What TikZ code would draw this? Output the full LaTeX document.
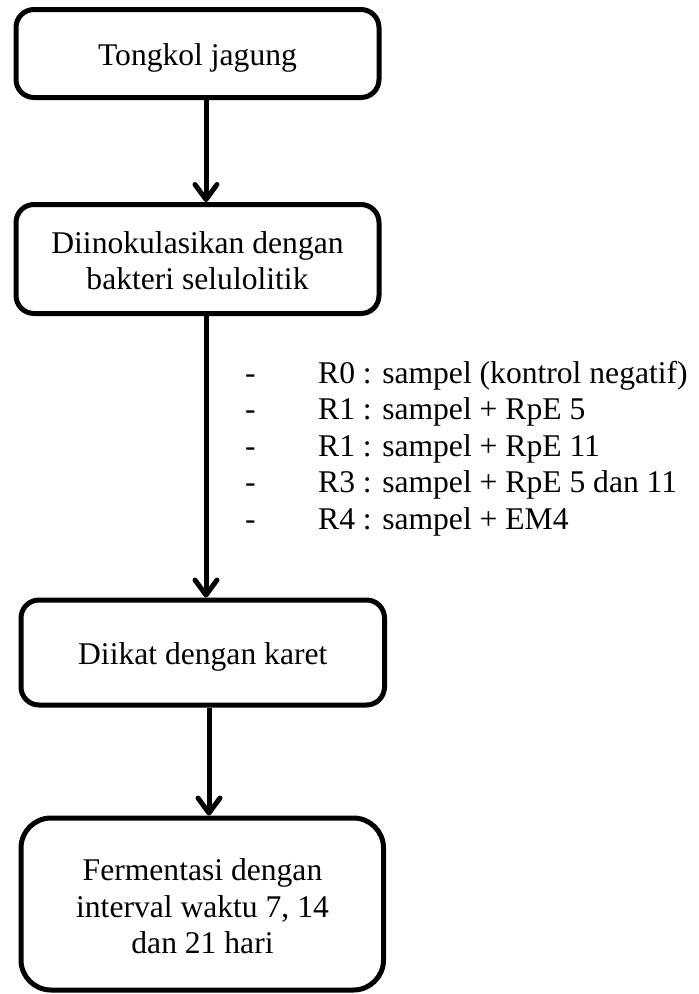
\documentclass[tikz,border=0pt]{standalone}
\usepackage{fontspec}
\setmainfont{Liberation Serif}
\usetikzlibrary{arrows.meta}
\begin{document}
\begin{tikzpicture}[x=1pt,y=-1pt,
  stepbox/.style={draw, line width=5pt, rounded corners=18pt, inner sep=0pt},
  boxtext/.style={align=center, font=\fontsize{31.6}{36.5}\selectfont, inner sep=0pt, anchor=base},
  listtext/.style={font=\fontsize{31.6}{36.5}\selectfont, inner sep=0pt, anchor=base west},
  flow/.style={line width=5pt, -{Straight Barb[length=15pt,width=22pt,line cap=round,line join=round]}}]
\useasboundingbox (0,0) rectangle (699,994);

% process boxes
\node[stepbox, minimum width=363pt, minimum height=88pt] (b1) at (197.5,53.5) {};
\node[stepbox, minimum width=363pt, minimum height=109pt] (b2) at (197.5,259) {};
\node[stepbox, minimum width=363.5pt, minimum height=105pt] (b3) at (202.75,652.5) {};
\node[stepbox, rounded corners=30pt, minimum width=362.5pt, minimum height=172pt] (b4) at (202.25,904) {};

% box labels (multi-line labels sit on the baseline of their last line)
\node[boxtext] (t1) at (197.5,65) {Tongkol jagung};
\node[boxtext] (t2) at (197.5,289.5) {Diinokulasikan dengan\\bakteri selulolitik};
\node[boxtext] (t3) at (202.75,664) {Diikat dengan karet};
\node[boxtext] (t4) at (202.5,953.5) {Fermentasi dengan\\interval waktu 7, 14\\dan 21 hari};

% flow arrows
\coordinate (axA) at (206,0);
\coordinate (axB) at (209,0);
\draw[flow] (b1.south -| axA) -- (b2.north -| axA);
\draw[flow] (b2.south -| axA) -- (b3.north -| axA);
\draw[flow] (b3.south -| axB) -- (b4.north -| axB);

% treatment list
\foreach \t [count=\k] in {R0 : sampel (kontrol negatif), R1 : sampel + RpE 5, R1 : sampel + RpE 11, R3 : sampel + RpE 5 dan 11, R4 : sampel + EM4} {
  \node[listtext] (d\k) at (245,{383+36.5*(\k-1)}) {-};
  \node[listtext] (r\k) at (318,{383+36.5*(\k-1)}) {\t};
}
\end{tikzpicture}
\end{document}
